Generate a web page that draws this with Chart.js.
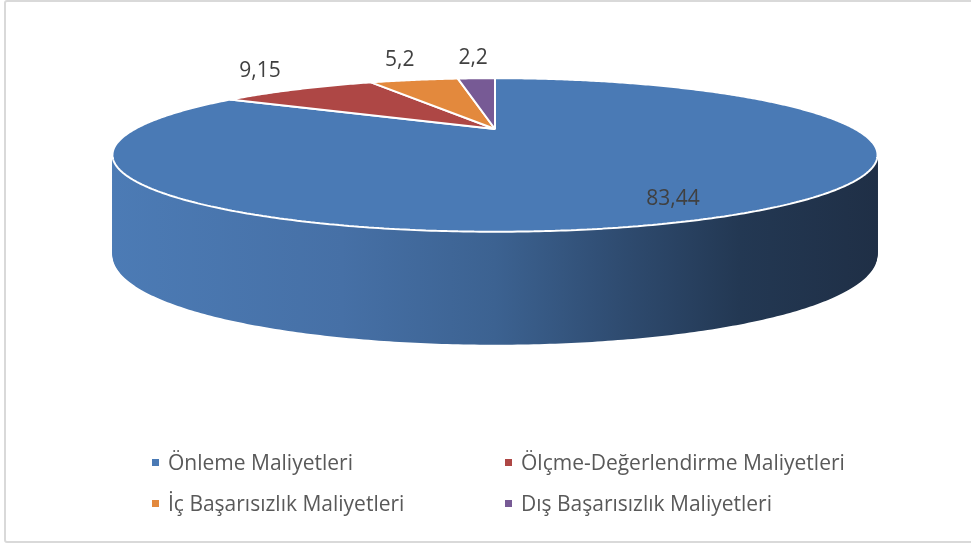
<!DOCTYPE html>
<html>
<head>
<meta charset="utf-8">
<script src="https://cdn.jsdelivr.net/npm/chart.js@4"></script>
<style>
  html, body { margin: 0; padding: 0; background: #fff; }
  #wrap { position: relative; width: 971px; height: 545px; overflow: hidden; }
  #frame { position: absolute; left: 4px; top: 0; width: 990px; height: 543px; box-sizing: border-box;
           border: 2px solid #d9d9d9; border-radius: 3px; }
  #chart { position: absolute; left: 0; top: 0; }
  #legend { position: absolute; left: 152px; top: 442px; display: grid; grid-template-columns: 353px auto;
            font-family: "Open Sans", sans-serif; font-size: 21px; line-height: 41px; color: #595959; white-space: nowrap; }
  #legend .box { display: inline-block; width: 7px; height: 7px; margin-right: 9px; vertical-align: 4px; }
</style>
</head>
<body>
<div id="wrap">
  <div id="frame"></div>
  <canvas id="chart" width="971" height="545"></canvas>
  <div id="legend"></div>
</div>
<script>
const labels = ['Önleme Maliyetleri', 'Ölçme-Değerlendirme Maliyetleri', 'İç Başarısızlık Maliyetleri', 'Dış Başarısızlık Maliyetleri'];
const values = [83.44, 9.15, 5.2, 2.2];
const colors = ['#4a7ab5', '#ae4745', '#e3893d', '#775a95'];
const sideColors = ['#3d6393', '#7d3331', '#a8622a', '#553f6e'];

// perspective of the tilted pie (screen px)
const view = { a: 360, b: 68, k: 0.338, depth: 93, depthSlope: 20, steps: 120 };

const proto = CanvasRenderingContext2D.prototype;
let center = null;
let lift = 0;

function project(px, py) {
  const X = (px - center.x) / center.r;
  const Z = (py - center.y) / center.r;
  const s = 1 / (1 - view.k * Z);
  return [center.x + view.a * X * s, center.y + view.b * Z * s + lift * (view.depth + view.depthSlope * Z)];
}

function patch(ctx) {
  ctx.moveTo = (x, y) => proto.moveTo.apply(ctx, project(x, y));
  ctx.lineTo = (x, y) => proto.lineTo.apply(ctx, project(x, y));
  ctx.arc = (x, y, r, a0, a1, ccw) => {
    if (r <= 0) { proto.lineTo.apply(ctx, project(x, y)); return; }
    const TAU = Math.PI * 2;
    let sweep = ccw ? a0 - a1 : a1 - a0;
    if (sweep >= TAU) sweep = TAU;
    else { sweep %= TAU; if (sweep < 0) sweep += TAU; }
    if (ccw) sweep = -sweep;
    const n = Math.max(2, Math.ceil(Math.abs(sweep) / 0.01));
    for (let i = 0; i <= n; i++) {
      const a = a0 + sweep * i / n;
      proto.lineTo.apply(ctx, project(x + r * Math.cos(a), y + r * Math.sin(a)));
    }
  };
}

function unpatch(ctx) {
  delete ctx.moveTo;
  delete ctx.lineTo;
  delete ctx.arc;
}

function fmt(v) {
  return String(v).replace('.', ',');
}

const pie3d = {
  id: 'pie3d',
  beforeDatasetsDraw(chart) {
    const ctx = chart.ctx;
    const arcs = chart.getDatasetMeta(0).data;
    center = { x: arcs[0].x, y: arcs[0].y, r: arcs[0].outerRadius };
    patch(ctx);

    // side wall: the arcs pushed down step by step
    const t = Math.asin(view.k);
    lift = 0;
    const left = project(center.x + Math.cos(Math.PI - t) * center.r, center.y + Math.sin(t) * center.r)[0];
    const right = project(center.x + Math.cos(t) * center.r, center.y + Math.sin(t) * center.r)[0];
    const grad = ctx.createLinearGradient(left, 0, right, 0);
    grad.addColorStop(0, '#4c7bb5');
    grad.addColorStop(0.3, '#4670a6');
    grad.addColorStop(0.5, '#3c6291');
    grad.addColorStop(0.66, '#2f4c71');
    grad.addColorStop(0.82, '#233853');
    grad.addColorStop(1, '#1f2f46');

    for (let i = view.steps; i >= 1; i--) {
      lift = i / view.steps;
      arcs.forEach((arc, j) => {
        const o = arc.options;
        arc.options = Object.assign({}, o, { backgroundColor: j === 0 ? grad : sideColors[j], borderWidth: 0 });
        arc.draw(ctx);
        arc.options = o;
      });
    }
    lift = 0;
  },
  afterDatasetsDraw(chart) {
    const ctx = chart.ctx;
    unpatch(ctx);
    const arcs = chart.getDatasetMeta(0).data;
    ctx.save();
    ctx.font = '21px "Open Sans"';
    ctx.fillStyle = '#404040';
    ctx.textAlign = 'center';
    ctx.textBaseline = 'middle';
    arcs.forEach((arc, i) => {
      const mid = (arc.startAngle + arc.endAngle) / 2;
      const inside = values[i] > 50;
      const f = inside ? 0.77 : 1.25;
      const p = project(center.x + Math.cos(mid) * center.r * f, center.y + Math.sin(mid) * center.r * f);
      ctx.fillText(fmt(values[i]), p[0], p[1] + (inside ? 11 : -11));
    });
    ctx.restore();
  }
};

new Chart(document.getElementById('chart'), {
  type: 'pie',
  data: {
    labels: labels,
    datasets: [{
      data: values,
      backgroundColor: colors,
      borderColor: '#ffffff',
      borderWidth: 2,
      clip: false
    }]
  },
  options: {
    responsive: false,
    animation: false,
    events: [],
    layout: { padding: { left: 20, right: 1, top: 0, bottom: 287 } },
    plugins: {
      legend: { display: false },
      tooltip: { enabled: false }
    }
  },
  plugins: [pie3d]
});

const legend = document.getElementById('legend');
labels.forEach((l, i) => {
  const item = document.createElement('div');
  const box = document.createElement('span');
  box.className = 'box';
  box.style.background = colors[i];
  item.appendChild(box);
  item.appendChild(document.createTextNode(l));
  legend.appendChild(item);
});
</script>
</body>
</html>
